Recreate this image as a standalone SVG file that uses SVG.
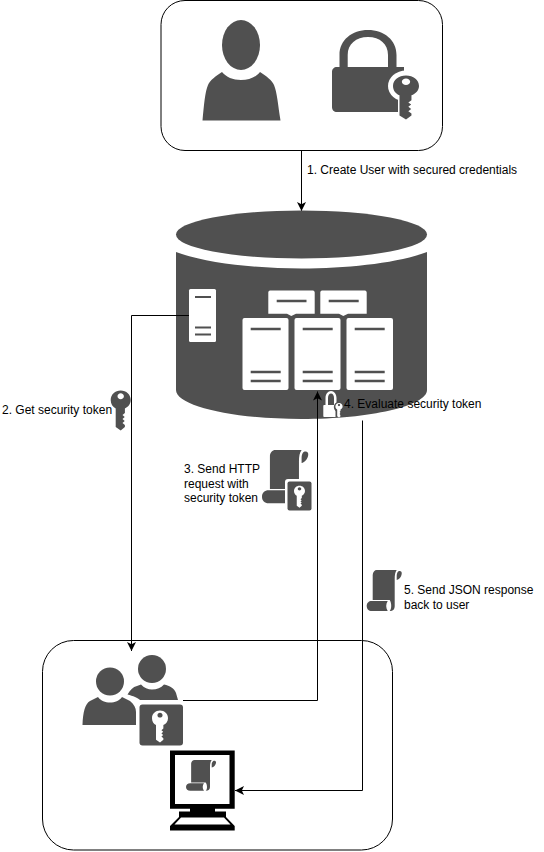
<svg xmlns="http://www.w3.org/2000/svg" width="544" height="852" viewBox="0 0 544 852">
<style>
.d{fill:#505050}
.w{fill:#fff}
.box{fill:#fff;stroke:#000;stroke-width:1}
.c{fill:none;stroke:#000;stroke-width:1}
.sl{stroke:#505050;stroke-width:2.6;fill:none}
.ss{stroke:#505050;stroke-width:2.2;fill:none}
text{font-family:"Liberation Sans",Arial,sans-serif;font-size:12px;fill:#000}
</style>
<defs>
<marker id="a" markerUnits="userSpaceOnUse" markerWidth="12" markerHeight="12" refX="9" refY="5" orient="auto"><path d="M0,0.5 L9,5 L0,9.5 L2.2,5Z" fill="#000"/></marker>
<path id="key" fill-rule="evenodd" d="M0,-10.500C5.600,-10.500 10,-6.500 10,-1C10,3 7.500,6 4.200,7.500V12L1.800,14L4,16L1.800,18L4,20L1.800,22L4.200,24V26L0,29.500L-5,26V7.500C-8,6 -10,3 -10,-1C-10,-6.500 -5.600,-10.500 0,-10.500ZM0,-7.800C-1.800,-7.800 -3.200,-6.400 -3.200,-4.800C-3.200,-3.200 -1.800,-1.800 0,-1.800C1.800,-1.800 3.200,-3.200 3.200,-4.800C3.200,-6.400 1.800,-7.800 0,-7.800Z"/>
<g id="scroll">
<path d="M10,0H30C28.500,2 28,5 28,9V36C28,39 26.500,41 23,41C25,39 25,33 23,30H6V5C6,2 8,0 10,0Z"/>
<path d="M21,31C19,34 19,38 21,41H5C2,41 0,39 0,36C0,33 2,31 5,31Z"/>
<path d="M31.500,1.500C33.500,0.500 35.500,1.500 35,4C34.500,7 32.500,9.500 30,10V6C30,4 30.500,2.500 31.500,1.500Z"/>
</g>
</defs>

<g id="connector-create">
<path class="c" d="M301.500,150V211" marker-end="url(#a)"/>
</g>

<g id="user-creation">
<rect class="box" x="161" y="0.500" width="281.500" height="150" rx="24" ry="24"/>
<g id="person" class="d">
<ellipse cx="241" cy="45" rx="19" ry="25"/>
<path d="M202.500,120.500C204,105 205,92 208,85C210,80 216,76 222,72C226,77 233,80 241,80C249,80 256,77 260,72C266,76 272,80 274,85C277,92 278,105 280.500,120.500Z"/>
</g>
<g id="lock">
<path class="d" fill-rule="evenodd" d="M339.500,67V55C339.500,40 352,30 368,30C384,30 396.500,40 396.500,55V67H404V112H337C334,112 332,110 332,107V72C332,69 334,67 337,67ZM347.700,67H388V55C388,44 380,37 368,37C356,37 347.700,44 347.700,55Z"/>
<ellipse class="w" cx="406" cy="86" rx="18" ry="15.500"/>
<rect class="w" x="398" y="95" width="20" height="18"/>
<use href="#key" class="d" transform="translate(406,87) scale(1.3,1.1)"/>
</g>
</g>

<g id="server-cylinder">
<ellipse class="d" cx="301.500" cy="234.500" rx="125.500" ry="24"/>
<path class="d" d="M176,252C205,263 255,268.500 301.500,268.500C348,268.500 398,263 427,252V390C427,406 370,419 301.500,419C233,419 176,406 176,390Z"/>
<g id="auth-server">
<rect class="w" x="189" y="289" width="27" height="53" rx="1.500"/>
<path class="ss" d="M195,297H211M195,327.500H211M195,334.500H211"/>
</g>
<g id="service-servers">
<path class="w" d="M270,290.500H313C314,290.500 314.700,291.500 314.700,292.500V313.700H296L291.300,316L287,313.700H268.300V292.500C268.300,291.500 269,290.500 270,290.500Z"/>
<path class="w" d="M322,290.500H365C366,290.500 366.700,291.500 366.700,292.500V313.700H348L343.300,316L339,313.700H320.300V292.500C320.300,291.500 321,290.500 322,290.500Z"/>
<path class="sl" d="M276.700,301H306.500M328.700,301H358.700"/>
<rect class="w" x="242.500" y="318" width="46" height="72" rx="2"/>
<rect class="w" x="294.500" y="318" width="46" height="72" rx="2"/>
<rect class="w" x="346.500" y="318" width="46.500" height="72" rx="2"/>
<path class="sl" d="M250.700,329H280.700M250.700,372H280.700M250.700,381H280.700M302.700,329H332.700M302.700,372H332.700M302.700,381H332.700M354.700,329H384.700M354.700,372H384.700M354.700,381H384.700"/>
</g>
<g id="small-lock">
<path class="w" fill-rule="evenodd" d="M325.500,405V398C325.500,394 328,391 331,391C334,391 336.500,394 336.500,398V405H337V417H324.300C323.700,417 323.300,416.500 323.300,416V406C323.300,405.500 323.700,405 324.300,405ZM328,405H334V398C334,395.500 332.800,393.500 331,393.500C329.200,393.500 328,395.500 328,398Z"/>
<ellipse class="d" cx="339" cy="407" rx="5.200" ry="5.200"/>
<rect class="d" x="335.500" y="410" width="6" height="7"/>
<use href="#key" class="w" transform="translate(339,406.800) scale(0.36,0.36)"/>
</g>
</g>

<g id="client">
<rect class="box" x="42.500" y="640.500" width="350" height="209.500" rx="31" ry="31"/>
<g id="users" class="d">
<circle cx="110" cy="681.500" r="14"/>
<path d="M82.500,725C83,712 85,704 90,701L98,697C101,701 105,702.500 110,702.500C115,702.500 119,701 122,697L130,701C134,704 136,708 136,712V725Z"/>
<circle cx="152" cy="669" r="14"/>
<path d="M127.500,694.500C130,690 133,687 137,686L141,684.500C144,688 148,689.500 152,689.500C157,689.500 161,688 164,684.500C170,686 174,688 176,693L178,700H140C138,698 133,696 127.500,694.500Z"/>
<rect x="139.500" y="704.500" width="43.500" height="41" rx="3"/>
<use href="#key" class="w" transform="translate(160,719) scale(0.8)"/>
</g>
<g id="monitor">
<path fill="#000" fill-rule="evenodd" d="M170,750.500H234.700V808.700H170ZM175,755V804H229.500V755Z"/>
<rect fill="#000" x="190" y="808" width="25" height="5"/>
<path fill="#000" d="M179,811.500H226V817L234.700,826V830.500H170V826L179,817Z"/>
<path fill="#fff" d="M181,817.500H224L230.500,824.500H174.500Z"/>
<use href="#scroll" class="d" transform="translate(186,760) scale(0.857,0.75)"/>
</g>
</g>

<g id="connectors">
<path class="c" d="M189,315.500H131.500V651" marker-end="url(#a)"/>
<path class="c" d="M183,700.500H317.500V391.500" marker-end="url(#a)"/>
<path class="c" d="M362.500,420.500V790.500H235" marker-end="url(#a)"/>
</g>

<g id="label-icons">
<use href="#key" class="d" transform="translate(120.700,401)"/>
<g id="http-scroll" class="d">
<use href="#scroll" transform="translate(262,450) scale(1.32,1.3)"/>
<rect class="w" x="285" y="479" width="29" height="34" rx="3"/>
<rect x="287.500" y="481.500" width="24" height="29" rx="2"/>
<use href="#key" class="w" transform="translate(299.500,491.500) scale(0.55)"/>
</g>
<use href="#scroll" class="d" transform="translate(366.700,570)"/>
</g>

<g id="labels">
<text x="307" y="174">1. Create User with secured credentials</text>
<text x="2" y="413.500">2. Get security token</text>
<text x="184" y="472.500">3. Send HTTP</text>
<text x="184" y="487.500">request with</text>
<text x="184" y="502">security token</text>
<text x="344" y="408">4. Evaluate security token</text>
<text x="404" y="594">5. Send JSON response</text>
<text x="404" y="609">back to user</text>
</g>
</svg>
